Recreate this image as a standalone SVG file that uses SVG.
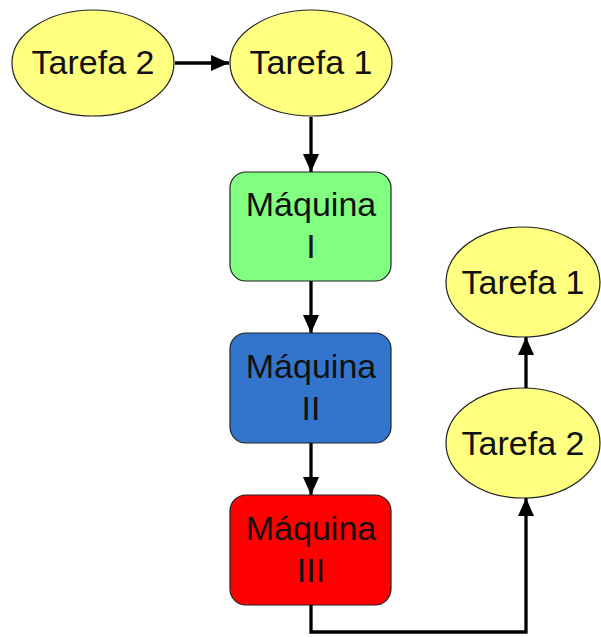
<svg xmlns="http://www.w3.org/2000/svg" width="601" height="637" viewBox="0 0 601 637">
  <defs>
    <marker id="arrow" viewBox="0 0 18 16" refX="18" refY="8" markerWidth="18" markerHeight="16" markerUnits="userSpaceOnUse" orient="auto">
      <path d="M0,0 L18,8 L0,16 Z" fill="#000"/>
    </marker>
  </defs>
  <style>
    .task { fill: #ffff80; stroke: #222; stroke-width: 1.2; }
    .box { stroke: #222; stroke-width: 1.2; }
    .lbl { font-family: "Liberation Sans", Arial, sans-serif; font-size: 34px; fill: #111; text-anchor: middle; }
    .edge { fill: none; stroke: #000; stroke-width: 3.3; marker-end: url(#arrow); }
  </style>
  <rect width="601" height="637" fill="#fff"/>

  <g id="edges">
    <line class="edge" x1="175" y1="63" x2="229" y2="63"/>
    <line class="edge" x1="311" y1="117" x2="311" y2="172"/>
    <line class="edge" x1="311" y1="281" x2="311" y2="333"/>
    <line class="edge" x1="311" y1="443" x2="311" y2="495"/>
    <polyline class="edge" points="311,605 311,632 526,632 526,498"/>
    <line class="edge" x1="526" y1="388" x2="526" y2="337"/>
  </g>

  <g id="tarefa2-top">
    <ellipse class="task" cx="93" cy="63" rx="81" ry="53"/>
    <text class="lbl" x="93" y="74">Tarefa 2</text>
  </g>
  <g id="tarefa1-top">
    <ellipse class="task" cx="311" cy="63" rx="81" ry="53"/>
    <text class="lbl" x="311" y="74">Tarefa 1</text>
  </g>
  <g id="maquina1">
    <rect class="box" x="230" y="172" width="161" height="109" rx="16" fill="#80ff80"/>
    <text class="lbl" x="311" y="216">Máquina</text>
    <text class="lbl" x="311" y="258">I</text>
  </g>
  <g id="maquina2">
    <rect class="box" x="230" y="333" width="161" height="110" rx="16" fill="#3375cc"/>
    <text class="lbl" x="311" y="378">Máquina</text>
    <text class="lbl" x="311" y="420">II</text>
  </g>
  <g id="maquina3">
    <rect class="box" x="230" y="495" width="161" height="110" rx="16" fill="#ff0000"/>
    <text class="lbl" x="311" y="540">Máquina</text>
    <text class="lbl" x="311" y="582">III</text>
  </g>
  <g id="tarefa1-right">
    <ellipse class="task" cx="523" cy="282" rx="77" ry="55"/>
    <text class="lbl" x="523" y="294">Tarefa 1</text>
  </g>
  <g id="tarefa2-right">
    <ellipse class="task" cx="523" cy="443" rx="77" ry="55"/>
    <text class="lbl" x="523" y="455">Tarefa 2</text>
  </g>
</svg>
